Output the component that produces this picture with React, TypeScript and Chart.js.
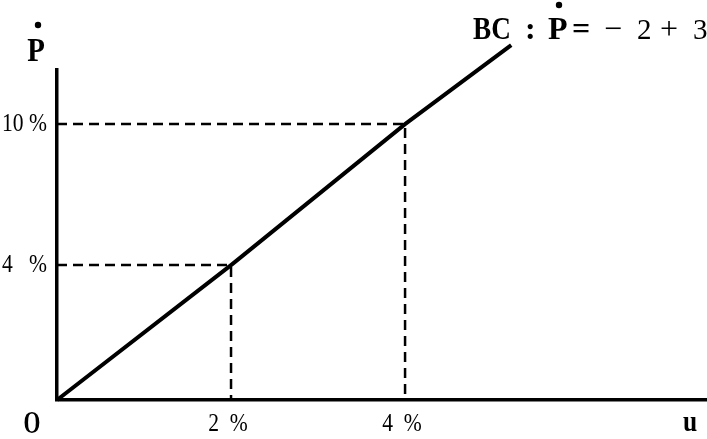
import React, { useEffect, useRef } from 'react';
import { Chart, LinearScale, registerables } from 'chart.js';

// ---- data ----
const U_VALUES = [0, 2, 4, 5.22];          // unemployment u (%)
const P_VALUES = [0, 4, 10, 12.86];        // inflation Ṗ (%)
const GUIDE_INDEXES = [1, 2];              // points marked with dashed guides
const X_TICKS = [2, 4];
const X_TICK_LABELS = ['2  %', '4  %'];
const Y_TICKS = [4, 10];
const Y_TICK_LABELS = ['4   %', '10 %'];
const EQUATION = ['BC', ':', 'P', '=', '−', '2', '+', '3'];

// The printed figure's vertical axis is not uniform: 4 % sits higher than a linear scale would put it.
const WARP_VALUES = [0, 4, 10];
const WARP_UNITS = [0, 4.89, 10];
class WarpedScale extends LinearScale {
  static id = 'warped';
  static defaults = LinearScale.defaults;
  warp(v: number) {
    const kv = WARP_VALUES, kw = WARP_UNITS;
    if (v <= kv[0]) return v;
    for (let i = 1; i < kv.length; i++) {
      if (v <= kv[i]) return kw[i - 1] + ((v - kv[i - 1]) * (kw[i] - kw[i - 1])) / (kv[i] - kv[i - 1]);
    }
    return kw[kw.length - 1] + (v - kv[kv.length - 1]);
  }
  unwarp(w: number) {
    const kv = WARP_VALUES, kw = WARP_UNITS;
    if (w <= kw[0]) return w;
    for (let i = 1; i < kw.length; i++) {
      if (w <= kw[i]) return kv[i - 1] + ((w - kw[i - 1]) * (kv[i] - kv[i - 1])) / (kw[i] - kw[i - 1]);
    }
    return kv[kv.length - 1] + (w - kw[kw.length - 1]);
  }
  getPixelForValue(value: any) {
    if (value === null || value === undefined) return NaN;
    const a = this.warp((this as any).min);
    const b = this.warp((this as any).max);
    return this.getPixelForDecimal((this.warp(value) - a) / (b - a));
  }
  getValueForPixel(pixel: number) {
    const a = this.warp((this as any).min);
    const b = this.warp((this as any).max);
    return this.unwarp(a + this.getDecimalForPixel(pixel) * (b - a));
  }
}

Chart.register(...registerables, WarpedScale);

const SERIF = '"Liberation Serif", "DejaVu Serif", serif';

function drawText(ctx: any, text: string, x: number, y: number, font: string, align: string, sx: number, baseline = 'alphabetic') {
  ctx.save();
  ctx.translate(x, y);
  ctx.scale(sx, 1);
  ctx.font = font;
  ctx.textAlign = align;
  ctx.textBaseline = baseline;
  ctx.fillText(text, 0, 0);
  ctx.restore();
}

function dot(ctx: any, x: number, y: number, r: number) {
  ctx.beginPath();
  ctx.arc(x, y, r, 0, Math.PI * 2);
  ctx.fill();
}

const textPlugin = {
  id: 'figureText',
  afterDraw(chart: any) {
    const ctx = chart.ctx;
    const xs = chart.scales.x;
    const ys = chart.scales.y;
    ctx.save();
    ctx.fillStyle = '#000';
    // tick labels
    Y_TICKS.forEach((v, i) => {
      drawText(ctx, Y_TICK_LABELS[i], 47, ys.getPixelForValue(v), `26px ${SERIF}`, 'right', 0.83, 'middle');
    });
    X_TICKS.forEach((v, i) => {
      drawText(ctx, X_TICK_LABELS[i], xs.getPixelForValue(v) - 3, 431, `26px ${SERIF}`, 'center', 0.83);
    });
    // axis name Ṗ
    drawText(ctx, 'P', 36, 61, `bold 34px ${SERIF}`, 'center', 0.85);
    dot(ctx, 38, 25, 3.2);
    // origin and u
    drawText(ctx, 'O', 32, 433, `bold 31px ${SERIF}`, 'center', 0.7);
    drawText(ctx, 'u', 690, 431, `bold 30px ${SERIF}`, 'center', 0.85);
    // equation label
    const lefts = [473, 525, 548, 572, 604, 637, 660, 693];
    EQUATION.forEach((t, i) => {
      const bold = t === 'BC' || t === 'P' || t === ':' || t === '=';
      const size = t === '2' || t === '3' ? 29 : 32;
      drawText(ctx, t, lefts[i], 39, `${bold ? 'bold ' : ''}${size}px ${SERIF}`, 'left', t === 'BC' ? 0.85 : 1);
    });
    dot(ctx, 559, 5, 3.2);
    ctx.restore();
  },
};

export default function App() {
  const ref = useRef<HTMLCanvasElement>(null);
  useEffect(() => {
    if (!ref.current) return;
    const guides = GUIDE_INDEXES.map((i) => ({
      data: [
        { x: 0, y: P_VALUES[i] },
        { x: U_VALUES[i], y: P_VALUES[i] },
        { x: U_VALUES[i], y: 0 },
      ],
      borderColor: '#000',
      borderWidth: 2.5,
      borderDash: [10, 6],
      pointRadius: 0,
      fill: false,
      tension: 0,
      clip: false as any,
    }));
    const chart = new Chart(ref.current, {
      type: 'line',
      data: {
        datasets: [
          {
            data: U_VALUES.map((u, i) => ({ x: u, y: P_VALUES[i] })),
            borderColor: '#000',
            borderWidth: 4,
            pointRadius: 0,
            fill: false,
            tension: 0,
            clip: false as any,
          },
          ...guides,
        ],
      },
      options: {
        animation: false,
        responsive: false,
        maintainAspectRatio: false,
        layout: { padding: { top: 70, right: 0, left: 0, bottom: 0 } },
        plugins: { legend: { display: false }, tooltip: { enabled: false } },
        scales: {
          x: {
            type: 'linear',
            min: 0,
            max: 7.47,
            grid: { display: true, drawOnChartArea: false, drawTicks: false },
            border: { display: true, width: 3.5, color: '#000' },
            afterBuildTicks: (s: any) => {
              s.ticks = X_TICKS.map((v) => ({ value: v }));
            },
            afterFit: (s: any) => {
              s.height = 39;
              s.paddingLeft = 0;
              s.paddingRight = 0;
            },
            ticks: { display: false },
          },
          y: {
            type: 'warped' as any,
            min: 0,
            max: 11.96,
            grid: { display: true, drawOnChartArea: false, drawTicks: false },
            border: { display: true, width: 3.5, color: '#000' },
            afterBuildTicks: (s: any) => {
              s.ticks = Y_TICKS.map((v) => ({ value: v }));
            },
            afterFit: (s: any) => {
              s.width = 57;
              s.paddingTop = 0;
              s.paddingBottom = 0;
            },
            ticks: { display: false },
          },
        },
      },
      plugins: [textPlugin],
    });
    return () => chart.destroy();
  }, []);
  return (
    <div style={{ position: 'absolute', left: 0, top: 0, width: 707, height: 439, background: '#fff' }}>
      <canvas ref={ref} width={707} height={439} />
    </div>
  );
}
